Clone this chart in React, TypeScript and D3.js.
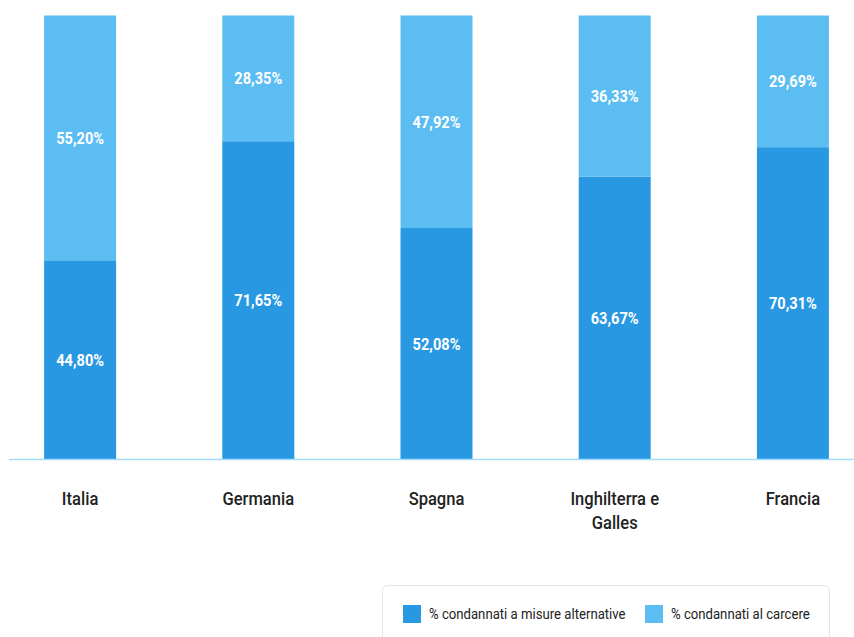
import React from "react";
import * as d3 from "d3";

const categories = ["Italia", "Germania", "Spagna", "Inghilterra e|Galles", "Francia"];
const alternative = [44.8, 71.65, 52.08, 63.67, 70.31];
const prison = [55.2, 28.35, 47.92, 36.33, 29.69];
const seriesNames = ["% condannati a misure alternative", "% condannati al carcere"];

const W = 854;
const H = 637;
const DARK = "#2898e2";
const LIGHT = "#5cbdf3";
const FONT = "Roboto, 'Noto Sans', sans-serif";

const fmt = (v: number) => v.toFixed(2).replace(".", ",") + "%";

export default function App() {
  const x = d3
    .scaleBand<string>()
    .domain(categories)
    .range([-9, 882])
    .paddingInner(0.596)
    .paddingOuter(0.298);
  const y = d3.scaleLinear().domain([0, 100]).range([459, 15.5]);

  const stacked = categories.map((c, i) => ({
    c,
    segs: [
      { y0: 0, y1: alternative[i], v: alternative[i], color: DARK },
      { y0: alternative[i], y1: alternative[i] + prison[i], v: prison[i], color: LIGHT },
    ],
  }));

  return (
    <div style={{ position: "absolute", left: 0, top: 0 }}>
      <svg width={W} height={H} style={{ display: "block", background: "#fff" }}>
        {stacked.map((d) => {
          const cx = (x(d.c) as number) + x.bandwidth() / 2;
          return (
            <g key={d.c}>
              {d.segs.map((s, j) => (
                <rect
                  key={j}
                  x={x(d.c)}
                  y={y(s.y1)}
                  width={x.bandwidth()}
                  height={y(s.y0) - y(s.y1)}
                  fill={s.color}
                />
              ))}
              {d.segs.map((s, j) => (
                <text
                  key={"t" + j}
                  transform={`translate(${cx},${(y(s.y0) + y(s.y1)) / 2}) scale(0.86,1)`}
                  dy="0.36em"
                  textAnchor="middle"
                  fill="#fff"
                  fontFamily={FONT}
                  fontWeight="bold"
                  fontSize={17}
                >
                  {fmt(s.v)}
                </text>
              ))}
              <text
                transform={`translate(${cx},499) scale(0.92,1)`}
                textAnchor="middle"
                fill="#222"
                fontFamily={FONT}
                fontWeight={500}
                fontSize={18}
              >
                {d.c.split("|").map((line, k) => (
                  <tspan key={k} x={0} y={k * 24} dy="0.36em">
                    {line}
                  </tspan>
                ))}
              </text>
            </g>
          );
        })}
        <line x1={9} x2={W} y1={459.5} y2={459.5} stroke="#a3daf8" strokeWidth={1.5} />
        <rect x={382.5} y={585.5} width={447} height={60} rx={5} fill="#fff" stroke="#e4e4e4" />
        {seriesNames.map((n, i) => {
          const lx = i === 0 ? 403 : 645;
          return (
            <g key={n}>
              <rect x={lx} y={605} width={18} height={18} fill={i === 0 ? DARK : LIGHT} />
              <text
                transform={`translate(${lx + 26},614) scale(0.94,1)`}
                dy="0.36em"
                fontFamily={FONT}
                fontSize={14}
                fill="#222"
              >
                {n}
              </text>
            </g>
          );
        })}
      </svg>
    </div>
  );
}
